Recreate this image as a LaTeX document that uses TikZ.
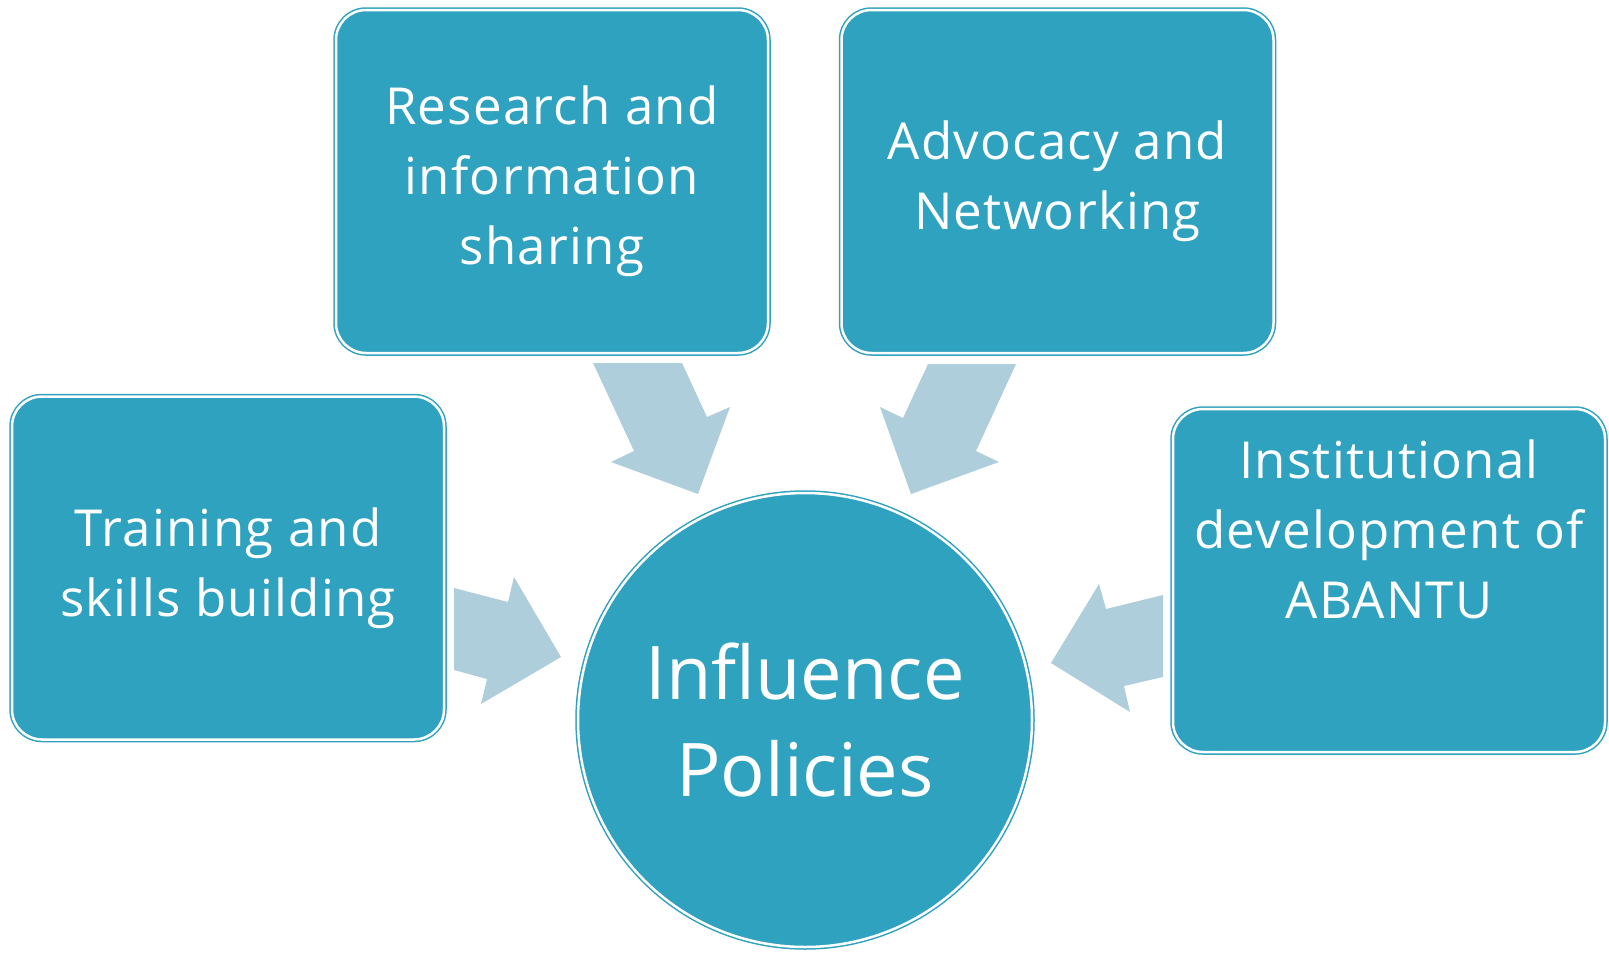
\documentclass[tikz,border=0pt]{standalone}
\usepackage{fontspec}
\setmainfont{Open Sans}
\newfontfamily\boxfont[LetterSpace=2.5]{Open Sans}
\usepackage{tikz}
\usetikzlibrary{positioning}
\definecolor{boxteal}{RGB}{46,162,190}
\definecolor{arrowblue}{RGB}{174,206,220}
\tikzstyle{block} = [draw = boxteal, double = white, double distance = 2.5pt, line width = 1.5pt, fill = boxteal, rectangle, rounded corners = 30pt, minimum width = 432pt, minimum height = 343pt, text = white, align = center, font = \boxfont\fontsize{51}{70}\selectfont]
\tikzstyle{boxtext} = [text = white, align = center, inner sep = 0pt, font = \boxfont\fontsize{51}{70}\selectfont]
\tikzstyle{hub} = [block, circle, minimum size = 454pt, font = \fontsize{74}{97}\selectfont]
\tikzstyle{bigarrow} = [fill = arrowblue]

\begin{document}
\begin{tikzpicture}[x = 1pt, y = -1pt]
		\useasboundingbox (0,0) rectangle (1609,954);
		
			% centre
			\node[hub] (policies) at (805,720) {Influence\\Policies};
			
			% boxes
			\node[block] (research) at (552,181.5) {Research and\\information\\sharing};
			\node[block] (advocacy) at (1057.5,181.5) {Advocacy and\\Networking};
			\node[block] (training) at (228,568) {Training and\\skills building};
			\node[block] (inst) at (1389,580.5) {};
			\node[boxtext, below = 31pt of inst.north] (insttext) {Institutional\\development of\\ABANTU};
			
			% block arrows
			\fill[bigarrow] (593,363) -- (682,363) -- (707,417) -- (730,407) -- (698,494) -- (611,462) -- (634,451) -- cycle;
			\fill[bigarrow] (928,364) -- (1016,364) -- (976,451) -- (999,462) -- (911,494) -- (880,407) -- (903,418) -- cycle;
			\fill[bigarrow] (454,588) -- (508,602) -- (514,577) -- (561,657) -- (481,704) -- (487,679) -- (454,670) -- cycle;
			\fill[bigarrow] (1163,595) -- (1163,677) -- (1124,686) -- (1130,712) -- (1051,663) -- (1099,584) -- (1106,609) -- cycle;
		
		\end{tikzpicture}
\end{document}
